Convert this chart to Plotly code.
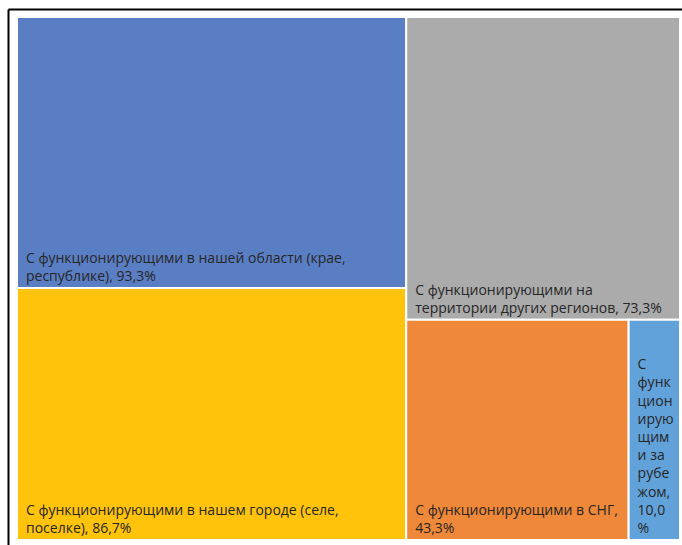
import plotly.graph_objects as go

labels = [
    "С функционирующими в нашей области (крае, республике)",
    "С функционирующими в нашем городе (селе, поселке)",
    "С функционирующими на территории других регионов",
    "С функционирующими в СНГ",
    "С функционирующими за рубежом",
]
values = [93.3, 86.7, 73.3, 43.3, 10.0]
text_lines = [
    ["С функционирующими в нашей области (крае,", "республике), 93,3%"],
    ["С функционирующими в нашем городе (селе,", "поселке), 86,7%"],
    ["С функционирующими на", "территории других регионов, 73,3%"],
    ["С функционирующими в СНГ,", "43,3%"],
    ["С", "функ", "цион", "ирую", "щим", "и за", "рубе", "жом,", "10,0", "%"],
]
indent = "\u00a0\u2009"
display_text = ["<br>".join(indent + s for s in lines) for lines in text_lines]
tile_colors = ["#5A7EC3", "#FFC30B", "#ABABAB", "#EF8839", "#62A2DA"]

fig = go.Figure(go.Treemap(
    labels=labels,
    parents=[""] * len(labels),
    values=values,
    text=display_text,
    texttemplate="%{text}",
    textposition="bottom left",
    textfont=dict(family="Open Sans", size=14, color="#262626"),
    marker=dict(colors=tile_colors, line=dict(color="white", width=2),
                pad=dict(t=0, l=0, r=0, b=0)),
    tiling=dict(packing="squarify", squarifyratio=1, pad=0),
    pathbar=dict(visible=False),
    sort=True,
    hoverinfo="label+value",
))

W, H = 682, 545
ml, mr, mt, mb = 17, 2, 17, 5
pw, ph = W - ml - mr, H - mt - mb
fx = lambda px: (px - ml) / pw
fy = lambda py: 1 - (py - mt) / ph

fig.update_layout(
    width=W, height=H,
    margin=dict(l=ml, r=mr, t=mt, b=mb),
    paper_bgcolor="white",
    uniformtext=dict(minsize=14, mode="show"),
    shapes=[
        dict(type="line", xref="paper", yref="paper", x0=fx(8.5), x1=fx(690), y0=fy(9.5), y1=fy(9.5),
             line=dict(color="black", width=2)),
        dict(type="line", xref="paper", yref="paper", x0=fx(8.5), x1=fx(8.5), y0=fy(9.5), y1=fy(560),
             line=dict(color="black", width=2)),
    ],
)

fig.write_html("out.html", config={"displayModeBar": False},
               post_script="document.body.style.margin='0';document.body.style.overflow='hidden';")
